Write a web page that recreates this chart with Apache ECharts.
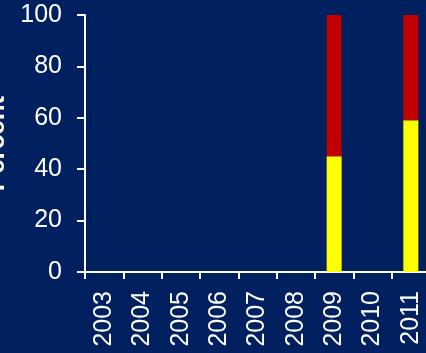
<!DOCTYPE html>
<html><head><meta charset="utf-8">
<script src="https://cdn.jsdelivr.net/npm/echarts@6/dist/echarts.min.js"></script>
<style>html,body{margin:0;padding:0;background:#002060;}#c{width:426px;height:353px;}</style>
</head><body><div id="c"></div>
<script>
const categories = ['2003','2004','2005','2006','2007','2008','2009','2010','2011'];
const yellowValues = [null,null,null,null,null,null,45,null,59];
const redValues = [null,null,null,null,null,null,55,null,41];
const yTicks = [0,20,40,60,80,100];

const chart = echarts.init(document.getElementById('c'), null, {renderer:'canvas'});
const font = 'Liberation Sans, Arial, sans-serif';
chart.setOption({
  backgroundColor: '#002060',
  animation: false,
  grid: {left: 85, top: 15, bottom: 81, right: -4, containLabel: false, outerBoundsMode: 'none'},
  xAxis: {
    type: 'category', data: categories,
    axisLine: {lineStyle: {color: '#ffffff', width: 2}},
    axisTick: {show: true, alignWithLabel: false, length: 7, lineStyle: {color:'#ffffff', width: 2}},
    axisLabel: {rotate: 90, color: '#ffffff', fontSize: 25, fontFamily: font, margin: 19, interval: 0},
    splitLine: {show: false}
  },
  yAxis: {
    type: 'value', min: yTicks[0], max: yTicks[yTicks.length-1], interval: 20,
    name: 'Percent', nameLocation: 'middle', nameGap: 67, nameRotate: 90,
    nameTextStyle: {color: '#ffffff', fontSize: 26, fontWeight: 'bold', fontFamily: font},
    axisLine: {show: true, lineStyle: {color: '#ffffff', width: 2}},
    axisTick: {show: true, length: 8, lineStyle: {color:'#ffffff', width: 2}},
    axisLabel: {color: '#ffffff', fontSize: 25, fontFamily: font, margin: 23},
    splitLine: {show: false}
  },
  series: [
    {type: 'bar', stack: 'a', data: yellowValues, barWidth: 15, itemStyle: {color: '#ffff00'}},
    {type: 'bar', stack: 'a', data: redValues, barWidth: 15, itemStyle: {color: '#c00000'}}
  ]
});
</script></body></html>
